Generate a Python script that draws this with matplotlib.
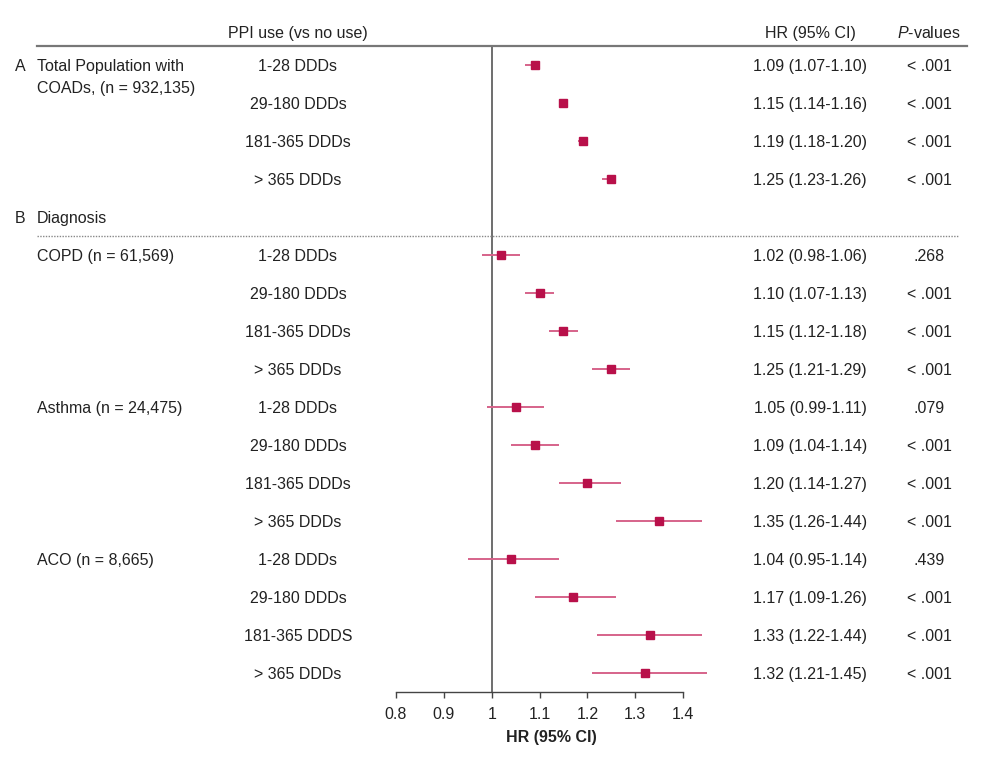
import matplotlib
matplotlib.use("Agg")
import matplotlib.pyplot as plt
import matplotlib.transforms as mtransforms
from matplotlib.lines import Line2D

plt.rcParams['font.family'] = ['Liberation Sans', 'DejaVu Sans']
plt.rcParams['mathtext.fontset'] = 'custom'
plt.rcParams['mathtext.rm'] = 'Liberation Sans'
plt.rcParams['mathtext.it'] = 'Liberation Sans:italic'

# rows, top to bottom (row 4 is the "B Diagnosis" header)
DOSES = ["1-28 DDDs", "29-180 DDDs", "181-365 DDDs", "> 365 DDDs"]
DOSES_ACO = ["1-28 DDDs", "29-180 DDDs", "181-365 DDDS", "> 365 DDDs"]

TOTAL_HR = [1.09, 1.15, 1.19, 1.25]
TOTAL_LO = [1.07, 1.14, 1.18, 1.23]
TOTAL_HI = [1.10, 1.16, 1.20, 1.26]
TOTAL_P = ["< .001", "< .001", "< .001", "< .001"]

COPD_HR = [1.02, 1.10, 1.15, 1.25]
COPD_LO = [0.98, 1.07, 1.12, 1.21]
COPD_HI = [1.06, 1.13, 1.18, 1.29]
COPD_P = [".268", "< .001", "< .001", "< .001"]

ASTHMA_HR = [1.05, 1.09, 1.20, 1.35]
ASTHMA_LO = [0.99, 1.04, 1.14, 1.26]
ASTHMA_HI = [1.11, 1.14, 1.27, 1.44]
ASTHMA_P = [".079", "< .001", "< .001", "< .001"]

ACO_HR = [1.04, 1.17, 1.33, 1.32]
ACO_LO = [0.95, 1.09, 1.22, 1.21]
ACO_HI = [1.14, 1.26, 1.44, 1.45]
ACO_P = [".439", "< .001", "< .001", "< .001"]

XTICKS = [0.8, 0.9, 1.0, 1.1, 1.2, 1.3, 1.4]
XTICKLABELS = ["0.8", "0.9", "1", "1.1", "1.2", "1.3", "1.4"]

TXT = "#222222"
MARK = "#B8104A"
CI = "#D6638A"
FS = 11.5

# groups: (label lines, first row, hr, lo, hi, p, doses)
groups = [
    (["Total Population with", "COADs, (n = 932,135)"], 0,
     TOTAL_HR, TOTAL_LO, TOTAL_HI, TOTAL_P, DOSES),
    (["COPD (n = 61,569)"], 5, COPD_HR, COPD_LO, COPD_HI, COPD_P, DOSES),
    (["Asthma (n = 24,475)"], 9, ASTHMA_HR, ASTHMA_LO, ASTHMA_HI, ASTHMA_P, DOSES),
    (["ACO (n = 8,665)"], 13, ACO_HR, ACO_LO, ACO_HI, ACO_P, DOSES_ACO),
]

fig = plt.figure(figsize=(10, 7.61), dpi=100)
ax = fig.add_axes([0.396, 0.0907, 0.311, 0.849])
ax.set_xlim(0.8, 1.45)
ax.set_ylim(16.5, -0.5)

tr = mtransforms.blended_transform_factory(fig.transFigure, ax.transData)
kw = dict(transform=tr, va='center_baseline', fontsize=FS, color=TXT)

for label, start, hr, lo, hi, pv, doses in groups:
    rows = [start + i for i in range(4)]
    ax.hlines(rows, lo, hi, color=CI, lw=1.4, zorder=2)
    ax.plot(hr, rows, 's', color=MARK, ms=5.5, zorder=3)
    for k, line in enumerate(label):
        ax.text(0.037, start + k * 0.58, line, ha='left', **kw)
    for r, d, h, l, u, p in zip(rows, doses, hr, lo, hi, pv):
        ax.text(0.298, r, d, ha='center', **kw)
        ax.text(0.810, r, f"{h:.2f} ({l:.2f}-{u:.2f})", ha='center', **kw)
        ax.text(0.929, r, p, ha='center', **kw)

ax.text(0.015, 0, "A", ha='left', **kw)
ax.text(0.015, 4, "B", ha='left', **kw)
ax.text(0.037, 4, "Diagnosis", ha='left', **kw)

# headers
hy = 1 - 32 / 761
fig.text(0.298, hy, "PPI use (vs no use)", ha='center', va='center_baseline',
         fontsize=FS, color=TXT)
fig.text(0.810, hy, "HR (95% CI)", ha='center', va='center_baseline',
         fontsize=FS, color=TXT)
fig.text(0.929, hy, r"$\it{P}$-values", ha='center', va='center_baseline',
         fontsize=FS, color=TXT)

# header rule and dotted separator
fig.add_artist(Line2D([0.037, 0.967], [1 - 46 / 761] * 2, color="#777777", lw=1.6))
ax.plot([0.037, 0.958], [4.5, 4.5], transform=tr, color="#888888", lw=1.0,
        ls=(0, (1, 1)), clip_on=False)

# reference line
ax.axvline(1.0, color="#555555", lw=1.2, zorder=1)

for s in ['top', 'right', 'left']:
    ax.spines[s].set_visible(False)
ax.spines['bottom'].set_bounds(0.8, 1.4)
ax.spines['bottom'].set_color("#444444")
ax.spines['bottom'].set_linewidth(1.0)
ax.set_yticks([])
ax.set_xticks(XTICKS)
ax.set_xticklabels(XTICKLABELS)
ax.tick_params(axis='x', direction='out', length=4.5, width=1.0, color="#444444",
               labelsize=FS, labelcolor=TXT, pad=6)
ax.set_xlabel("HR (95% CI)", fontsize=FS, fontweight='bold', color=TXT, labelpad=6)

fig.savefig("out.png", dpi=100)
